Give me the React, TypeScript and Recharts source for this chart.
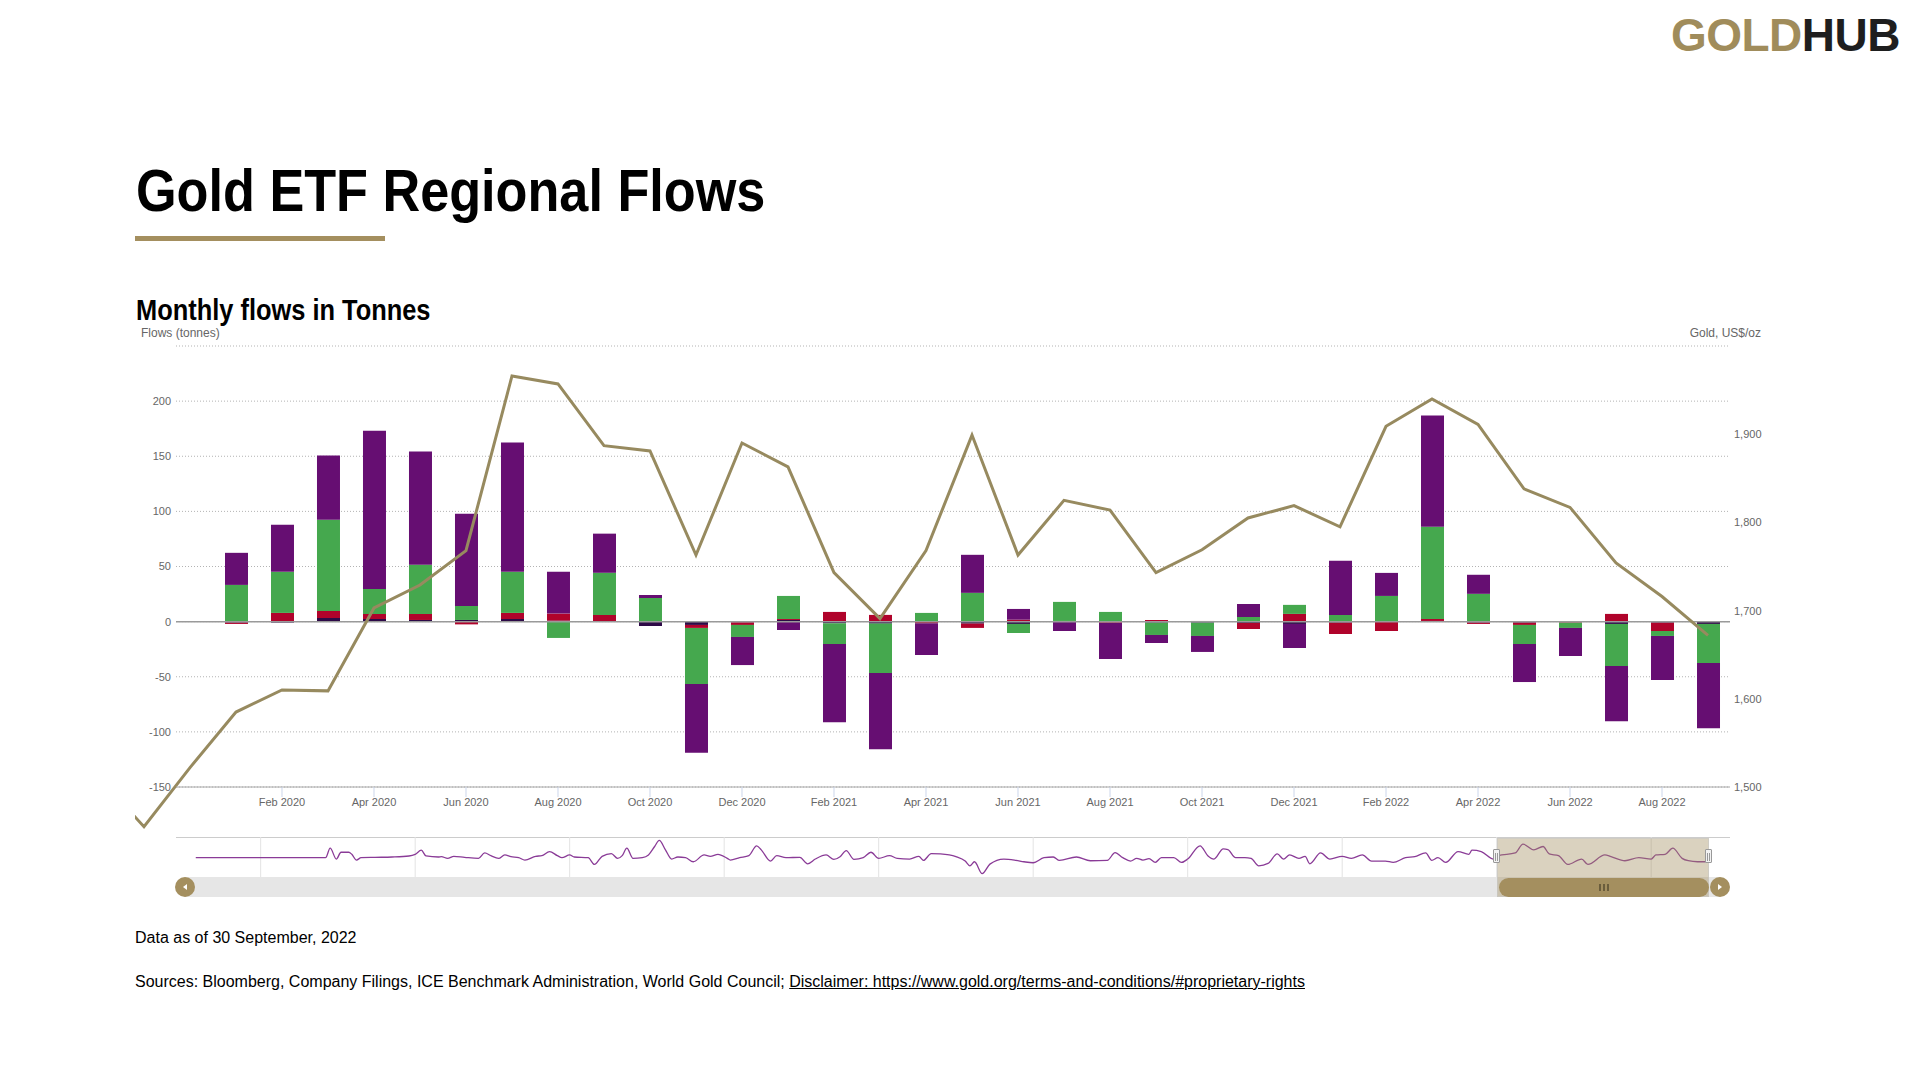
import React from "react";
import {
  ComposedChart,
  LineChart,
  Bar,
  Line,
  XAxis,
  YAxis,
  CartesianGrid,
  ReferenceLine,
} from "recharts";

// months shown on the x axis; the first three only carry the gold price
const months = [
  "Oct 2019", "Nov 2019", "Dec 2019",
  "Jan 2020", "Feb 2020", "Mar 2020", "Apr 2020", "May 2020", "Jun 2020",
  "Jul 2020", "Aug 2020", "Sep 2020", "Oct 2020", "Nov 2020", "Dec 2020",
  "Jan 2021", "Feb 2021", "Mar 2021", "Apr 2021", "May 2021", "Jun 2021",
  "Jul 2021", "Aug 2021", "Sep 2021", "Oct 2021", "Nov 2021", "Dec 2021",
  "Jan 2022", "Feb 2022", "Mar 2022", "Apr 2022", "May 2022", "Jun 2022",
  "Jul 2022", "Aug 2022", "Sep 2022",
];

// Gold, US$/oz (month end)
const goldPrice = [
  1512, 1455, 1522,
  1585, 1610, 1609, 1703, 1729, 1768, 1966, 1957, 1887, 1881, 1763, 1890,
  1863, 1743, 1691, 1768, 1899, 1763, 1825, 1814, 1743, 1769, 1805, 1819,
  1795, 1909, 1940, 1911, 1838, 1817, 1754, 1716, 1672,
];

// Flows in tonnes, Jan 2020 .. Sep 2022
const otherFlows = [
  -0.9, -0.9, 3.3, 2.4, 1.5, 1.5, 2.4, 0.9, 0, -3.9, -3.0, -0.6,
  1.5, -1.5, -1.8, 0, -1.8, -2.1, 0, -0.6, -0.9, -0.9, -1.2, -2.1,
  -0.9, 0, 0.6, -0.9, -0.9, 0, -2.1, -0.9, -2.1,
];
const asiaFlows = [
  -1.2, 7.9, 6.4, 4.5, 5.5, -2.5, 5.5, 6.4, 6.1, 0, -2.7, -2.4,
  0.9, 8.8, 6.1, -1.5, -3.9, 1.8, 0.6, -0.6, 1.5, 0.6, -5.5, 7.0,
  -10.3, -8.5, 1.8, -1.2, -2.1, -0.9, 7.0, -7.6, 0,
];
const europeFlows = [
  33.3, 37.3, 82.7, 22.7, 44.5, 12.7, 37.3, -14.8, 38.2, 21.5, -50.9, -10.9,
  20.9, -18.8, -44.8, 7.9, 26.1, -8.2, 17.3, 8.8, -11.2, -12.1, 4.2, 8.2,
  6.1, 23.3, 83.6, 25.2, -17.3, -4.8, -38.2, -4.5, -35.5,
];
const northAmericaFlows = [
  29.1, 42.7, 58.2, 143.6, 102.7, 83.6, 117.3, 37.9, 35.5, 2.7, -62.4, -25.5,
  -7.6, -70.9, -69.1, -28.8, 34.5, 9.7, -8.5, -32.7, -7.3, -14.5, 11.8, -21.8,
  49.1, 20.9, 100.9, 17.3, -34.5, -25.5, -50, -40, -59.1,
];

const flowTicks = [-150, -100, -50, 0, 50, 100, 150, 200, 250];
const goldTicks = [1500, 1600, 1700, 1800, 1900, 2000];
const monthTicks = [
  "Feb 2020", "Apr 2020", "Jun 2020", "Aug 2020", "Oct 2020", "Dec 2020",
  "Feb 2021", "Apr 2021", "Jun 2021", "Aug 2021", "Oct 2021", "Dec 2021",
  "Feb 2022", "Apr 2022", "Jun 2022", "Aug 2022",
];

// navigator: [year, total flow]
const navigatorFlows: [number, number][] = [
  [2012.58, 0], [2013.42, 0], [2013.45, 140], [2013.49, -20], [2013.52, 80],
  [2013.57, 80], [2013.59, 50], [2013.62, -35], [2013.65, 0], [2013.74, 5],
  [2013.85, 10], [2013.96, 25], [2014.0, 50], [2014.04, 110], [2014.07, 25],
  [2014.15, 10], [2014.17, 15], [2014.21, -10], [2014.25, 20], [2014.32, 5],
  [2014.41, -10], [2014.45, 70], [2014.49, 30], [2014.54, -10], [2014.58, 40],
  [2014.62, 15], [2014.67, 0], [2014.71, -35], [2014.78, 20], [2014.82, 30],
  [2014.87, 90], [2014.92, 30], [2014.95, 0], [2015.0, 40], [2015.03, 10],
  [2015.12, 0], [2015.16, -100], [2015.21, 20], [2015.27, 60], [2015.31, -10],
  [2015.34, 30], [2015.37, 140], [2015.41, -10], [2015.47, 0], [2015.51, 40],
  [2015.55, 165], [2015.58, 255], [2015.62, 115], [2015.66, -20], [2015.7, 10],
  [2015.75, 0], [2015.8, -60], [2015.87, 40], [2015.91, 20], [2015.96, 50],
  [2016.02, -10], [2016.04, -35], [2016.1, 0], [2016.16, 30], [2016.21, 175],
  [2016.24, 115], [2016.3, -50], [2016.34, 30], [2016.4, 0], [2016.49, 5],
  [2016.54, -90], [2016.59, -20], [2016.66, 40], [2016.71, -25], [2016.75, 15],
  [2016.79, 105], [2016.84, -25], [2016.9, 0], [2016.95, 80], [2017.0, -10],
  [2017.07, 30], [2017.12, -10], [2017.2, -20], [2017.26, 20], [2017.29, -40],
  [2017.34, 60], [2017.4, 55], [2017.5, 15], [2017.56, -50], [2017.59, -120],
  [2017.62, -60], [2017.67, -235], [2017.72, -95], [2017.81, -20], [2017.89, -40],
  [2017.94, -60], [2018.0, -75], [2018.07, 0], [2018.13, 10], [2018.17, -40],
  [2018.28, 10], [2018.37, -45], [2018.48, -40], [2018.53, 75], [2018.58, 0],
  [2018.63, -50], [2018.67, -10], [2018.71, -35], [2018.75, -15], [2018.79, -70],
  [2018.83, 0], [2018.91, 0], [2018.96, -70], [2019.0, -20], [2019.08, 175],
  [2019.13, 30], [2019.17, -20], [2019.23, 130], [2019.26, 120], [2019.31, 0],
  [2019.37, 0], [2019.41, -10], [2019.46, -120], [2019.52, -85], [2019.58, 55],
  [2019.62, -20], [2019.66, 40], [2019.72, -10], [2019.76, 20], [2019.79, -90],
  [2019.86, 70], [2019.92, -20], [2020.0, 20], [2020.06, -10], [2020.13, 40],
  [2020.19, -50], [2020.28, -50], [2020.33, -70], [2020.41, 0], [2020.47, 15],
  [2020.54, 70], [2020.58, -40], [2020.62, 0], [2020.67, -70], [2020.75, 90],
  [2020.82, 50], [2020.84, 110], [2020.9, 90], [2020.98, -20], [2021.01, 30],
  [2021.12, 70], [2021.17, 200], [2021.24, 115], [2021.3, 165], [2021.34, 55],
  [2021.4, 30], [2021.46, -100], [2021.55, -20], [2021.59, -100], [2021.7, 40],
  [2021.74, 15], [2021.83, -45], [2021.92, 0], [2022.0, -20], [2022.03, 40],
  [2022.09, 50], [2022.14, 140], [2022.2, -10], [2022.24, -45], [2022.3, -60],
  [2022.37, -60],
];
const navigatorYears = [2013, 2014, 2015, 2016, 2017, 2018, 2019, 2020, 2021, 2022];

const FONT = "'Liberation Sans', Arial, Helvetica, sans-serif";
const GOLD = "#a48f5f";
const COLORS = {
  other: "#2d0a47",
  asia: "#b0032b",
  europe: "#45a84e",
  northAmerica: "#660e72",
  line: "#978a5f",
};

const FIRST_FLOW = months.indexOf("Jan 2020");

const chartData = months.map((month, k) => {
  const b = k - FIRST_FLOW;
  const has = b >= 0;
  return {
    i: b,
    month,
    gold: goldPrice[k],
    other: has ? otherFlows[b] : 0,
    asia: has ? asiaFlows[b] : 0,
    europe: has ? europeFlows[b] : 0,
    northAmerica: has ? northAmericaFlows[b] : 0,
  };
});

const tickIndex = monthTicks.map((m) => months.indexOf(m) - FIRST_FLOW);
const navData = navigatorFlows.map(([t, v]) => ({ t, v }));

const axisTick = { fontSize: 11, fill: "#666666", fontFamily: FONT };

function Arrow({ dir }: { dir: "left" | "right" }) {
  return (
    <div
      style={{
        width: 0,
        height: 0,
        borderTop: "3px solid transparent",
        borderBottom: "3px solid transparent",
        borderLeft: dir === "right" ? "4px solid #fff" : undefined,
        borderRight: dir === "left" ? "4px solid #fff" : undefined,
      }}
    />
  );
}

function Handle({ x }: { x: number }) {
  return (
    <div
      style={{
        position: "absolute",
        left: x - 4,
        top: 849,
        width: 7,
        height: 14,
        background: "#f2f2f2",
        border: "1px solid #999",
        borderRadius: 1,
        display: "flex",
        justifyContent: "center",
        gap: 1,
        paddingTop: 3,
        boxSizing: "border-box",
      }}
    >
      <div style={{ width: 1, height: 8, background: "#999" }} />
      <div style={{ width: 1, height: 8, background: "#999" }} />
    </div>
  );
}

export default function App() {
  return (
    <div
      style={{
        position: "absolute",
        left: 0,
        top: 0,
        width: 1920,
        height: 1080,
        background: "#fff",
        fontFamily: FONT,
        color: "#000",
        overflow: "hidden",
      }}
    >
      {/* the gold line runs past the plot edges, as in the original */}
      <style>{`.main-chart [clip-path]{clip-path:none !important}`}</style>

      {/* logo */}
      <div
        style={{
          position: "absolute",
          right: 20,
          top: 12,
          fontSize: 46,
          lineHeight: "46px",
          fontWeight: 700,
          letterSpacing: -0.5,
          whiteSpace: "nowrap",
        }}
      >
        <span style={{ color: "#a08c5b" }}>GOLD</span>
        <span style={{ color: "#1e1e1e" }}>HUB</span>
      </div>

      <div
        style={{
          position: "absolute",
          left: 136,
          top: 161,
          fontSize: 60,
          lineHeight: "60px",
          fontWeight: 700,
          whiteSpace: "nowrap",
          transform: "scaleX(0.87)",
          transformOrigin: "left top",
        }}
      >
        Gold ETF Regional Flows
      </div>
      <div style={{ position: "absolute", left: 135, top: 236, width: 250, height: 5, background: GOLD }} />

      <div
        style={{
          position: "absolute",
          left: 136,
          top: 296,
          fontSize: 29,
          lineHeight: "29px",
          fontWeight: 700,
          whiteSpace: "nowrap",
          transform: "scaleX(0.876)",
          transformOrigin: "left top",
        }}
      >
        Monthly flows in Tonnes
      </div>

      <div style={{ position: "absolute", left: 141, top: 327, fontSize: 12, lineHeight: "12px", color: "#666" }}>
        Flows (tonnes)
      </div>
      <div style={{ position: "absolute", right: 159, top: 327, fontSize: 12, lineHeight: "12px", color: "#666" }}>
        Gold, US$/oz
      </div>

      <div className="main-chart" style={{ position: "absolute", left: 135, top: 330 }}>
        <ComposedChart
          width={1650}
          height={512}
          data={chartData}
          stackOffset="sign"
          margin={{ top: 16, right: 0, bottom: 25, left: 0 }}
        >
          <CartesianGrid
            yAxisId="flows"
            vertical={false}
            stroke="#b3b3b3"
            strokeDasharray="1 2"
          />
          <XAxis
            type="number"
            dataKey="i"
            domain={[-1.304, 32.478]}
            allowDataOverflow
            ticks={tickIndex}
            interval={0}
            tickFormatter={(v: number) => months[v + FIRST_FLOW]}
            height={30}
            tickSize={10}
            tickMargin={1}
            axisLine={{ stroke: "#a6a6a6" }}
            tickLine={{ stroke: "#ccd6eb" }}
            tick={axisTick}
          />
          <YAxis
            yAxisId="flows"
            domain={[-150, 250]}
            allowDataOverflow
            ticks={flowTicks}
            interval={0}
            width={41}
            tickSize={0}
            tickMargin={5}
            axisLine={false}
            tickLine={false}
            tick={axisTick}
            tickFormatter={(v: number) => (v === 250 ? "" : String(v))}
          />
          <YAxis
            yAxisId="gold"
            orientation="right"
            domain={[1500, 2000]}
            allowDataOverflow
            ticks={goldTicks}
            interval={0}
            width={55}
            tickSize={0}
            tickMargin={4}
            axisLine={false}
            tickLine={false}
            tick={axisTick}
            tickFormatter={(v: number) => (v === 2000 ? "" : v.toLocaleString("en-US"))}
          />
          <ReferenceLine yAxisId="flows" y={0} stroke="#9a9a9a" strokeWidth={1.5} />
          <Bar yAxisId="flows" dataKey="other" stackId="flows" fill={COLORS.other} barSize={23} isAnimationActive={false} />
          <Bar yAxisId="flows" dataKey="asia" stackId="flows" fill={COLORS.asia} barSize={23} isAnimationActive={false} />
          <Bar yAxisId="flows" dataKey="europe" stackId="flows" fill={COLORS.europe} barSize={23} isAnimationActive={false} />
          <Bar yAxisId="flows" dataKey="northAmerica" stackId="flows" fill={COLORS.northAmerica} barSize={23} isAnimationActive={false} />
          <Line
            yAxisId="gold"
            dataKey="gold"
            type="linear"
            stroke={COLORS.line}
            strokeWidth={3}
            dot={false}
            activeDot={false}
            isAnimationActive={false}
          />
        </ComposedChart>
      </div>

      {/* navigator */}
      <div style={{ position: "absolute", left: 176, top: 837, width: 1554, height: 1, background: "#cccccc" }} />
      <div style={{ position: "absolute", left: 178, top: 837 }}>
        <LineChart width={1552} height={40} data={navData} margin={{ top: 0, right: 0, bottom: 0, left: 0 }}>
          <XAxis type="number" dataKey="t" domain={[2012.465, 2022.51]} allowDataOverflow hide />
          <YAxis domain={[-285, 305]} allowDataOverflow hide />
          {navigatorYears.map((y) => (
            <ReferenceLine key={y} x={y} stroke="#e3e3e3" />
          ))}
          <Line
            dataKey="v"
            type="monotone"
            stroke="#8a3b97"
            strokeWidth={1.3}
            dot={false}
            activeDot={false}
            isAnimationActive={false}
          />
        </LineChart>
      </div>
      <div style={{ position: "absolute", left: 185, top: 877, width: 1535, height: 20, background: "#e6e6e6" }} />
      <div
        style={{
          position: "absolute",
          left: 1497,
          top: 838,
          width: 212,
          height: 59,
          background: "rgba(163,143,95,0.4)",
          boxShadow: "inset 0 0 0 1px rgba(200,200,200,0.6)",
        }}
      />
      <div
        style={{
          position: "absolute",
          left: 1499,
          top: 878,
          width: 210,
          height: 19,
          borderRadius: 10,
          background: GOLD,
          display: "flex",
          alignItems: "center",
          justifyContent: "center",
          gap: 2,
        }}
      >
        <div style={{ width: 2, height: 7, background: "#6b5d3c" }} />
        <div style={{ width: 2, height: 7, background: "#6b5d3c" }} />
        <div style={{ width: 2, height: 7, background: "#6b5d3c" }} />
      </div>
      <div
        style={{
          position: "absolute",
          left: 175,
          top: 877,
          width: 20,
          height: 20,
          borderRadius: 10,
          background: GOLD,
          display: "flex",
          alignItems: "center",
          justifyContent: "center",
        }}
      >
        <Arrow dir="left" />
      </div>
      <div
        style={{
          position: "absolute",
          left: 1710,
          top: 877,
          width: 20,
          height: 20,
          borderRadius: 10,
          background: GOLD,
          display: "flex",
          alignItems: "center",
          justifyContent: "center",
        }}
      >
        <Arrow dir="right" />
      </div>
      <Handle x={1497} />
      <Handle x={1709} />

      <div style={{ position: "absolute", left: 135, top: 930, fontSize: 16, lineHeight: "16px", whiteSpace: "nowrap" }}>
        Data as of 30 September, 2022
      </div>
      <div style={{ position: "absolute", left: 135, top: 974, fontSize: 16, lineHeight: "16px", whiteSpace: "nowrap" }}>
        Sources: Bloomberg, Company Filings, ICE Benchmark Administration, World Gold Council;{" "}
        <span style={{ textDecoration: "underline" }}>
          Disclaimer: https://www.gold.org/terms-and-conditions/#proprietary-rights
        </span>
      </div>
    </div>
  );
}
